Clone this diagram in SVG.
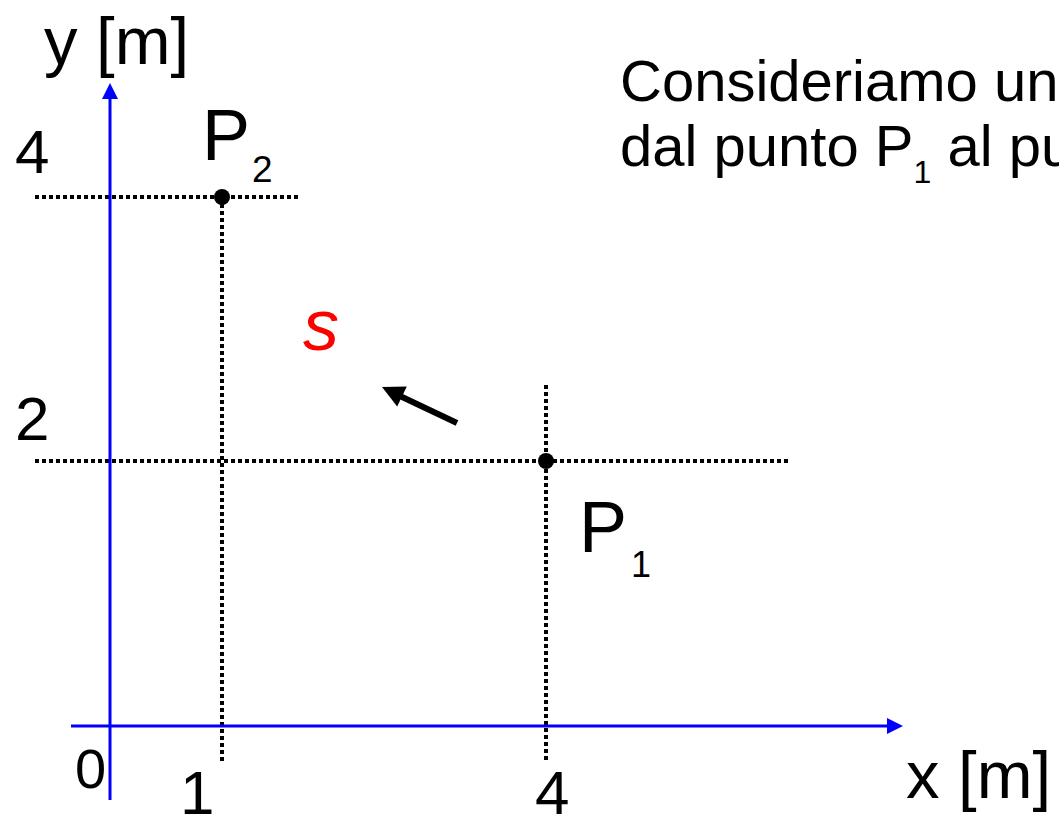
<svg xmlns="http://www.w3.org/2000/svg" width="1059" height="817" viewBox="0 0 1059 817">
<style>
.t{font-family:"Liberation Sans",Arial,sans-serif;fill:#000}
.dot{stroke:#000;stroke-width:4;stroke-dasharray:4 3;fill:none}
.ax{stroke:#0000FF;stroke-width:3;fill:none}
</style>
<rect width="1059" height="817" fill="#fff"/>
<g id="connectors">
<line class="dot" x1="35" y1="197" x2="298" y2="197"/>
<line class="dot" x1="35" y1="461" x2="790" y2="461"/>
<line class="dot" x1="222" y1="197" x2="222" y2="763"/>
<line class="dot" x1="546" y1="385" x2="546" y2="763"/>
<line class="ax" x1="110" y1="800" x2="110" y2="97"/>
<polygon points="110,83 102,99 118,99" fill="#0000FF"/>
<line class="ax" x1="71" y1="726" x2="889" y2="726"/>
<polygon points="903,726 887,718 887,734" fill="#0000FF"/>
<line x1="457" y1="423" x2="400" y2="396" stroke="#000" stroke-width="6"/>
<polygon points="382,387 406.8,386.6 397.2,406.4" fill="#000"/>
</g>
<g id="P2">
<circle cx="222" cy="197" r="8" fill="#000"/>
<text class="t" x="202" y="160" font-size="72">P</text>
<text class="t" x="252" y="182" font-size="37">2</text>
</g>
<g id="P1">
<circle cx="546" cy="461" r="8" fill="#000"/>
<text class="t" x="579" y="552" font-size="72">P</text>
<text class="t" x="631" y="577" font-size="36">1</text>
</g>
<g id="labels">
<text class="t" x="44" y="64" font-size="67">y [m]</text>
<text class="t" x="906" y="798" font-size="67">x [m]</text>
<text class="t" x="15" y="173" font-size="62">4</text>
<text class="t" x="15" y="440" font-size="62">2</text>
<text class="t" x="75" y="788" font-size="56">0</text>
<text class="t" x="180" y="814" font-size="62">1</text>
<text class="t" x="535" y="814" font-size="62">4</text>
<text x="303" y="350" font-size="72" font-style="italic" font-family="Liberation Sans,Arial,sans-serif" fill="#FF0000">s</text>
</g>
<g id="text">
<text class="t" x="620" y="101" font-size="58">Consideriamo un</text>
<text class="t" x="620" y="166" font-size="58">dal punto P<tspan font-size="32" dy="17">1</tspan><tspan dy="-17"> al pu</tspan></text>
</g>
</svg>
